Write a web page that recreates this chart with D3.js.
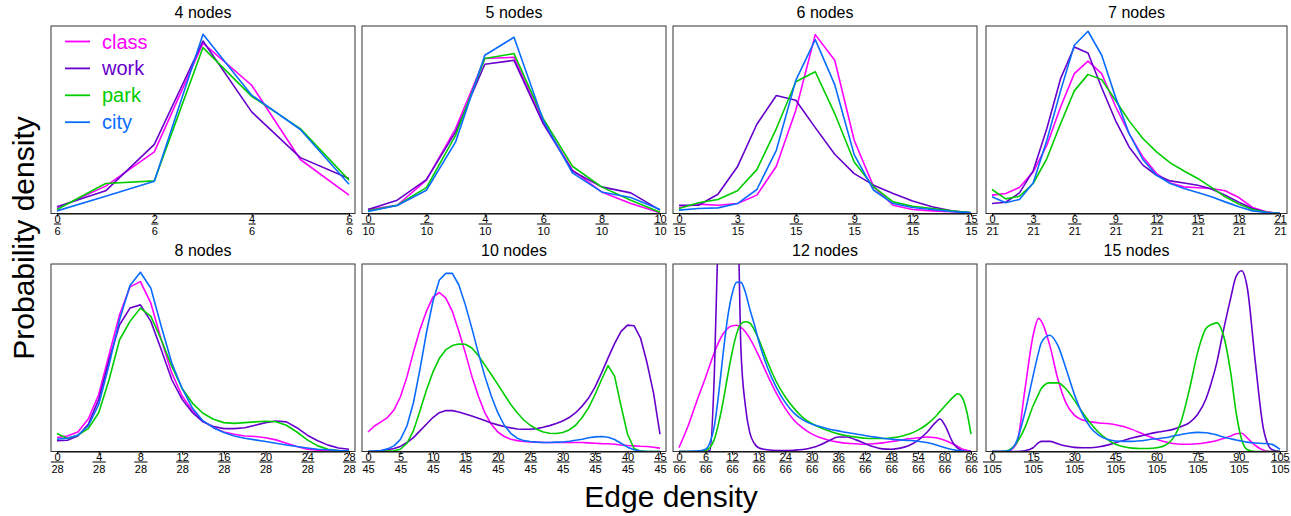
<!DOCTYPE html>
<html><head><meta charset="utf-8">
<script src="https://cdn.jsdelivr.net/npm/d3@7"></script>
<style>body{margin:0;background:#fff} text{font-family:Arial,"Liberation Sans",sans-serif}</style>
</head><body><svg id="c" width="1291" height="516"></svg>
<script>
// ---------------- DATA ----------------
const categories = ["class","work","park","city"];
const colors = ["#ff00ff","#6600cc","#00cc00","#0a6cff"];
const nodeCounts = [4,5,6,7,8,10,12,15];
const maxEdges = [6,10,15,21,28,45,66,105];
const tickSteps = [2,2,3,3,4,5,6,15];

// 4 nodes (edges 0..6)
const class4 = [2.7,14.6,32.9,90.9,68.4,28.8,9.8];
const work4  = [3.6,12.1,36.9,92.0,54.2,29.8,18.7];
const park4  = [2.1,16.0,17.4,88.5,62.5,45.3,17.8];
const city4  = [1.4,9.2,17.2,95.6,63.1,44.8,15.6];
// 5 nodes (edges 0..10)
const class5 = [2.1,4.4,17.8,45.3,82.7,83.3,49.0,23.1,11.5,5.3,0.4];
const work5  = [2.1,7.1,18.1,43.5,79.6,81.7,47.9,22.7,14.2,11.0,1.8];
const park5  = [1.4,4.4,13.8,41.7,82.7,85.3,50.6,25.2,14.2,7.1,0.7];
const city5  = [1.1,4.3,12.4,38.2,84.4,94.0,49.7,21.7,11.5,8.5,2.1];
// 6 nodes (edges 0..15)
const class6 = [3.2,5.0,4.4,5.3,9.8,25.2,55.1,95.4,81.7,39.1,14.2,4.4,2.1,1.4,0.9,0.4];
const work6  = [4.4,4.4,10.3,24.9,47.6,62.9,60.4,45.8,31.6,21.3,15.1,10.7,6.7,3.6,1.4,0.4];
const park6  = [2.7,5.7,7.5,12.1,23.4,45.3,70.3,75.6,53.3,27.5,14.2,6.2,3.9,2.7,1.4,0.4];
const city6  = [1.8,2.7,3.0,5.3,12.8,33.7,71.0,92.7,68.7,31.4,12.4,5.3,3.2,2.1,1.1,0.4];
// 7 nodes (edges 0..21)
const class7 = [9.8,10.7,13.9,22.2,36.4,56.8,74.6,81.3,74.6,57.2,42.6,30.2,21.3,16.3,14.2,13.7,13.3,12.1,8.5,3.2,0.9,0];
const work7  = [5.3,6.0,11.0,22.7,45.3,71.9,88.8,85.6,67.1,49.7,35.5,25.8,20.4,17.4,16.3,15.1,13.1,9.8,6.0,2.7,0.7,0];
const park7  = [12.8,7.8,9.2,16.0,29.3,47.9,65.4,74.2,71.4,60.4,49.4,40.0,32.9,27.0,22.7,18.7,13.9,8.9,5.0,2.1,0.7,0];
const city7  = [8.9,5.7,7.5,16.3,39.1,65.4,89.7,97.2,84.4,62.2,42.6,28.8,20.4,16.0,13.3,11.2,8.9,6.2,3.6,1.4,0.5,0];
// 8 nodes (edges 0..28)
const class8 = [7.4,8.3,10.4,17.3,30.4,51.7,72.9,87.8,90.6,79.1,59.6,41.9,29.6,21.6,16.3,12.7,10.4,9.2,8.3,8.0,7.3,6.2,4.4,2.7,1.2,0.7,0.4,0.2,0];
const work8  = [5.7,6.0,8.3,14.5,27.8,49.0,67.6,76.5,78.2,69.4,54.3,38.4,27.8,20.7,15.8,13.3,12.2,12.2,12.7,14.0,15.4,16.3,15.8,12.7,8.7,5.7,3.4,1.9,1.2];
const park8  = [9.6,6.9,8.7,12.2,20.7,38.4,59.6,69.4,76.5,72.1,59.6,45.5,33.6,25.7,20.4,17.2,15.4,15.0,15.4,15.8,16.1,15.9,14.0,10.4,6.2,3.0,1.2,0.5,0.2];
const city8  = [6.5,7.1,8.7,13.6,25.1,46.4,70.3,88.5,95.6,87.1,66.7,47.3,33.6,23.0,16.3,12.7,10.1,8.3,7.1,6.2,5.3,4.4,3.5,2.7,1.9,1.2,0.9,0.5,0.2];
// 10 nodes (edges 0..45)
const class10 = [10.4,13.6,15.8,18.1,22.1,29.2,39.8,52.9,65.0,74.7,82.3,84.8,81.8,74.7,64.1,52.6,40.2,29.6,20.7,14.5,10.4,8.0,6.5,5.8,5.3,5.1,5.0,4.8,4.8,4.8,4.8,4.8,4.8,4.8,4.6,4.4,4.2,4.1,3.9,3.5,3.2,3.0,2.8,2.7,2.3,1.8];
const work10  = [0,0.2,0.4,0.9,1.6,2.7,4.8,7.4,11.0,14.5,18.1,20.7,21.9,21.8,21.1,20.0,18.9,17.7,16.5,15.2,14.2,13.3,12.6,12.0,11.9,11.9,12.2,12.9,13.8,14.9,16.3,18.1,20.7,24.2,28.5,34.5,41.9,49.9,57.5,64.1,67.4,67.1,60.5,47.3,31.3,9.2];
const park10  = [0,0,0,0.2,0.4,1.2,4.4,11.0,21.6,32.7,42.3,49.7,54.3,56.5,57.3,57.2,55.2,51.2,46.2,41.1,35.8,30.4,25.1,20.7,16.8,14.0,11.9,10.4,9.7,9.6,10.1,11.5,14.0,18.1,23.4,30.4,38.4,45.8,40.2,24.2,9.2,1.6,0.2,0,0,0];
const city10  = [0,0.2,0.5,1.4,3.0,6.5,13.6,26.0,43.7,63.2,80.0,91.5,95.0,95.0,88.8,78.2,65.8,52.6,40.2,29.6,20.7,14.0,9.7,7.1,5.8,5.3,5.0,4.8,4.8,5.0,5.1,5.5,6.0,6.5,7.3,7.8,8.0,7.6,6.4,4.4,2.3,0.9,0.2,0,0,0];
// 12 nodes
const edges12 = [0,2,4,6,7,8,9,10,11,12,13,14,15,16,17,18,20,22,24,26,28,30,32,34,36,38,40,42,44,46,48,50,52,54,56,58,59,60,62,63,64,65,66];
const class12 = [2.1,13.3,26.7,39.5,46.3,52.8,58.5,62.8,65.7,67.1,67.3,66.2,63.9,60.3,56.0,51.1,40.7,31.1,23.0,16.7,12.5,9.4,7.3,5.9,5.0,4.4,4.1,3.9,4.1,4.6,5.3,6.0,6.8,7.3,7.7,7.3,6.8,6.0,3.9,2.7,1.4,0.7,0.2];
const work12  = [0,0,0,0,0.5,42.2,130,250,300,280,180,54.6,24.4,10.1,4.4,2.0,0.9,0.5,0.5,0.7,1.1,2.0,3.6,5.9,7.7,7.7,6.2,4.3,2.5,1.4,1.2,1.8,3.2,5.9,10.1,15.5,17.3,14.4,4.4,1.8,0.5,0,0];
const park12  = [0,0,0,0.5,2.1,6.6,15.5,27.0,40.4,52.8,62.6,68.0,69.2,68.5,64.9,60.0,47.9,37.2,29.2,23.0,18.1,14.9,12.6,10.9,9.4,8.4,7.7,7.1,6.9,6.9,7.3,8.0,9.3,11.4,14.4,18.7,21.4,24.0,29.0,30.8,28.8,21.7,9.3];
const city12  = [0,0,0.2,1.2,4.8,13.7,31.5,52.8,71.5,84.0,90.2,90.2,84.9,76.0,68.0,59.1,44.8,34.2,26.2,20.5,16.9,14.6,13.2,11.9,11.0,10.1,9.3,8.5,7.8,7.1,6.6,6.2,5.9,5.5,4.8,3.6,2.8,2.1,0.9,0.5,0.2,0,0];
// 15 nodes
const edges15 = [0,3,6,9,12,15,17,18,21,24,27,30,33,36,39,42,45,48,51,54,57,60,63,66,69,72,75,78,80,82,84,87,89,91,93,96,99,102,105];
const class15 = [0,0,0.4,4.3,33.0,62.0,71.0,69.5,57.0,38.7,25.8,19.4,16.8,15.8,15.2,14.9,14.3,13.3,11.8,10.0,8.1,6.5,5.2,4.3,3.9,3.9,4.1,4.7,5.2,5.9,6.8,8.2,9.5,9.7,7.3,3.2,0.7,0,0];
const work15  = [0,0,0,0,0.4,2.0,4.7,5.4,5.4,4.1,2.9,2.2,2.0,2.0,2.5,3.4,4.7,5.9,7.2,8.2,9.3,10.2,10.9,11.8,13.3,15.4,19.9,28.0,36.9,47.7,62.0,81.7,93.4,96.4,88.0,47.7,11.8,1.1,0];
const park15  = [0,0,0.7,4.7,12.7,24.4,30.6,33.7,36.6,36.6,33.3,27.4,20.8,14.9,10.0,6.5,3.9,2.5,1.8,1.6,1.6,2.0,3.2,7.0,16.3,33.3,53.0,65.6,67.7,68.6,63.8,42.3,20.8,6.5,1.1,0,0,0,0];
const city15  = [0,0,0.4,5.6,20.8,40.5,53.0,58.1,62.0,56.6,44.1,30.6,19.9,12.7,8.6,6.5,5.6,5.4,5.4,5.7,6.3,6.8,7.3,8.2,9.1,9.9,10.2,10.0,9.5,8.8,7.9,6.8,6.1,5.6,5.0,4.5,4.3,3.8,1.1];

// ---------------- BUILD ----------------
const panels = [
  {edges:d3.range(7),  series:[class4,work4,park4,city4], curve:d3.curveLinear},
  {edges:d3.range(11), series:[class5,work5,park5,city5], curve:d3.curveLinear},
  {edges:d3.range(16), series:[class6,work6,park6,city6], curve:d3.curveLinear},
  {edges:d3.range(22), series:[class7,work7,park7,city7], curve:d3.curveLinear},
  {edges:d3.range(29), series:[class8,work8,park8,city8], curve:d3.curveLinear},
  {edges:d3.range(46), series:[class10,work10,park10,city10], curve:d3.curveLinear},
  {edges:edges12, series:[class12,work12,park12,city12], curve:d3.curveMonotoneX},
  {edges:edges15, series:[class15,work15,park15,city15], curve:d3.curveMonotoneX}
];

const svg = d3.select("#c");
const colLeft = [51, 362, 673, 986];
const colWidth = [304, 304, 304, 301];
const colInsetR = [6, 6, 6, 7];
const rowTop = [26, 264];
const frameH = 187.5, inset = 6;

panels.forEach((p, i) => {
  const col = i % 4, row = Math.floor(i / 4);
  const L = colLeft[col], T = rowTop[row], B = T + frameH, W = colWidth[col];
  const max = maxEdges[i];
  const x = d3.scaleLinear().domain([0, max]).range([L + inset, L + W - colInsetR[col]]);
  const y = d3.scaleLinear().domain([0, 100]).range([B, T]);
  const g = svg.append("g");

  g.append("clipPath").attr("id", "cp" + i)
    .append("rect").attr("x", L).attr("y", T).attr("width", W).attr("height", frameH);

  const lines = g.append("g").attr("clip-path", `url(#cp${i})`);
  p.series.forEach((vals, k) => {
    const line = d3.line().x((d, j) => x(p.edges[j])).y(d => y(d)).curve(p.curve);
    lines.append("path").datum(vals).attr("d", line)
      .attr("fill", "none").attr("stroke", colors[k]).attr("stroke-width", 1.6)
      .attr("stroke-linejoin", "round");
  });

  g.append("rect").attr("x", L).attr("y", T).attr("width", W).attr("height", frameH)
    .attr("fill", "none").attr("stroke", "#333").attr("stroke-width", 1);

  const ticks = d3.range(0, max + 1, tickSteps[i]);
  const ax = g.append("g").attr("transform", `translate(0,${B})`)
    .call(d3.axisBottom(x).tickValues(ticks).tickSize(3).tickSizeOuter(0).tickFormat(d => d));
  ax.select(".domain").attr("stroke", "#000").attr("stroke-width", 1.2);
  ax.selectAll(".tick line").attr("stroke", "#000");
  ax.selectAll(".tick").each(function() {
    const t = d3.select(this);
    const num = t.select("text").attr("y", 9.5).attr("dy", null)
      .attr("font-size", 11).attr("fill", "#000").attr("font-family", "Arial, 'Liberation Sans', sans-serif");
    const den = t.append("text").attr("y", 21).attr("text-anchor", "middle")
      .attr("font-size", 11).attr("fill", "#000").text(max);
    const w = Math.max(num.node().getComputedTextLength(), den.node().getComputedTextLength());
    t.append("line").attr("x1", -w / 2 - 0.5).attr("x2", w / 2 + 0.5)
      .attr("y1", 10.5).attr("y2", 10.5).attr("stroke", "#000").attr("stroke-width", 1);
  });

  g.append("text").attr("x", L + W / 2).attr("y", T - 8).attr("text-anchor", "middle")
    .attr("font-size", 16).attr("fill", "#000").text(nodeCounts[i] + " nodes");
});

// legend in first panel
const lg = svg.append("g");
categories.forEach((c, k) => {
  const yy = 41.5 + k * 26.9;
  lg.append("line").attr("x1", 65).attr("x2", 90).attr("y1", yy).attr("y2", yy)
    .attr("stroke", colors[k]).attr("stroke-width", 1.8);
  lg.append("text").attr("x", 102).attr("y", yy + 7).attr("font-size", 20)
    .attr("fill", colors[k]).text(c);
});

// axis titles
svg.append("text").attr("transform", "translate(34,238) rotate(-90)")
  .attr("text-anchor", "middle").attr("font-size", 30).attr("fill", "#000").text("Probability density");
svg.append("text").attr("x", 671).attr("y", 507).attr("text-anchor", "middle")
  .attr("font-size", 30).attr("fill", "#000").text("Edge density");
</script></body></html>
